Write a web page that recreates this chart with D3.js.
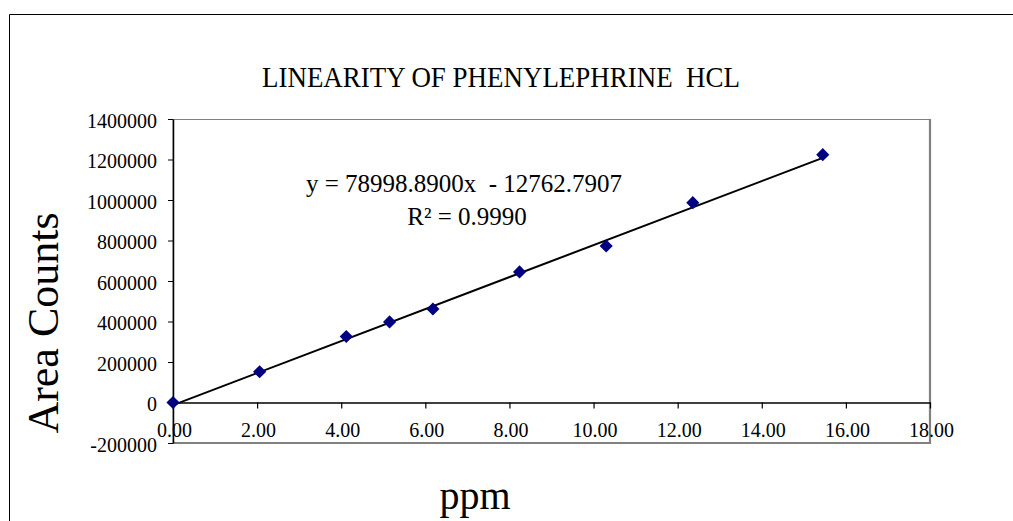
<!DOCTYPE html>
<html>
<head>
<meta charset="utf-8">
<script src="https://cdn.jsdelivr.net/npm/d3@7"></script>
<style>
  body { margin: 0; background: #fff; }
</style>
</head>
<body>
<svg id="chart"></svg>
<script>
// Data
const ppm = [0, 2.06, 4.12, 5.15, 6.18, 8.24, 10.30, 12.36, 15.45];
const areaCounts = [0, 152000, 326000, 398000, 462000, 645000, 773000, 987000, 1224000];
const slope = 78998.89;
const intercept = -12762.7907;
const yTicks = [-200000, 0, 200000, 400000, 600000, 800000, 1000000, 1200000, 1400000];
const xTicks = [0, 2, 4, 6, 8, 10, 12, 14, 16, 18];

const W = 1013, H = 521;
const plot = { left: 173, right: 930, top: 119, bottom: 443 };
const serif = "'Liberation Serif', 'Times New Roman', Times, serif";

const svg = d3.select("#chart")
    .attr("width", W)
    .attr("height", H);

// outer chart frame (right and bottom run off the picture)
svg.append("path")
    .attr("d", `M9.5,${H} V14.5 H${W}`)
    .attr("fill", "none")
    .attr("stroke", "#000")
    .attr("stroke-width", 1);

const x = d3.scaleLinear().domain([0, 18]).range([plot.left, plot.right]);
const y = d3.scaleLinear().domain([-200000, 1400000]).range([plot.bottom, plot.top]);

// plot area frame
svg.append("rect")
    .attr("x", plot.left)
    .attr("y", plot.top + 0.5)
    .attr("width", plot.right - plot.left)
    .attr("height", plot.bottom - plot.top)
    .attr("fill", "none")
    .attr("stroke", "#808080")
    .attr("stroke-width", 1);
svg.append("path")
    .attr("d", `M${plot.right},${plot.top} V${plot.bottom} H${plot.left}`)
    .attr("fill", "none")
    .attr("stroke", "#808080")
    .attr("stroke-width", 2.2);

// y axis
const yAxis = svg.append("g")
    .attr("transform", `translate(${plot.left},0)`)
    .call(d3.axisLeft(y).tickValues(yTicks).tickSize(5).tickSizeOuter(0).tickFormat(d => String(d)));
yAxis.attr("font-family", serif);
yAxis.select(".domain").attr("stroke", "#000").attr("stroke-width", 1.5);
yAxis.selectAll(".tick line").attr("stroke", "#000");
yAxis.selectAll(".tick text")
    .attr("x", -16)
    .attr("dy", "0.42em")
    .style("font-family", serif)
    .style("font-size", "20px");

// x axis crossing at y = 0
const xAxis = svg.append("g")
    .attr("transform", `translate(0,${y(0)})`)
    .call(d3.axisBottom(x).tickValues(xTicks).tickSize(6).tickSizeOuter(0).tickFormat(d => d.toFixed(2)));
xAxis.attr("font-family", serif);
xAxis.select(".domain").attr("stroke", "#000").attr("stroke-width", 1.5);
xAxis.selectAll(".tick line").attr("stroke", "#000").attr("stroke-width", 1.2);
xAxis.selectAll(".tick text")
    .attr("y", 34)
    .attr("dy", 0)
    .attr("dx", 1)
    .style("font-family", serif)
    .style("font-size", "20px");

// trend line
const xMin = d3.min(ppm), xMax = d3.max(ppm);
const trend = [xMin, xMax].map(v => [v, slope * v + intercept]);
svg.append("path")
    .datum(trend)
    .attr("d", d3.line().x(d => x(d[0])).y(d => y(d[1])))
    .attr("fill", "none")
    .attr("stroke", "#000")
    .attr("stroke-width", 2);

// markers
svg.append("g")
    .selectAll("path")
    .data(ppm.map((p, i) => [p, areaCounts[i]]))
    .join("path")
    .attr("transform", d => `translate(${x(d[0])},${y(d[1])})`)
    .attr("d", d3.symbol(d3.symbolDiamond2, 110))
    .attr("fill", "#000080");

// title
svg.append("text")
    .attr("x", 501)
    .attr("y", 87)
    .attr("text-anchor", "middle")
    .attr("textLength", 478)
    .attr("lengthAdjust", "spacingAndGlyphs")
    .style("font-family", serif)
    .style("font-size", "29px")
    .style("white-space", "pre")
    .text("LINEARITY OF PHENYLEPHRINE  HCL");

// equation
svg.append("text")
    .attr("x", 464)
    .attr("y", 192)
    .attr("text-anchor", "middle")
    .style("font-family", serif)
    .style("font-size", "25px")
    .style("white-space", "pre")
    .text(`y = ${slope.toFixed(4)}x  - ${Math.abs(intercept).toFixed(4)}`);
svg.append("text")
    .attr("x", 467)
    .attr("y", 225)
    .attr("text-anchor", "middle")
    .style("font-family", serif)
    .style("font-size", "25px")
    .text("R² = 0.9990");

// axis titles
svg.append("text")
    .attr("transform", "translate(58,323) rotate(-90)")
    .attr("text-anchor", "middle")
    .style("font-family", serif)
    .style("font-size", "44px")
    .text("Area Counts");
svg.append("text")
    .attr("x", 475)
    .attr("y", 509)
    .attr("text-anchor", "middle")
    .style("font-family", serif)
    .style("font-size", "40px")
    .text("ppm");
</script>
</body>
</html>
